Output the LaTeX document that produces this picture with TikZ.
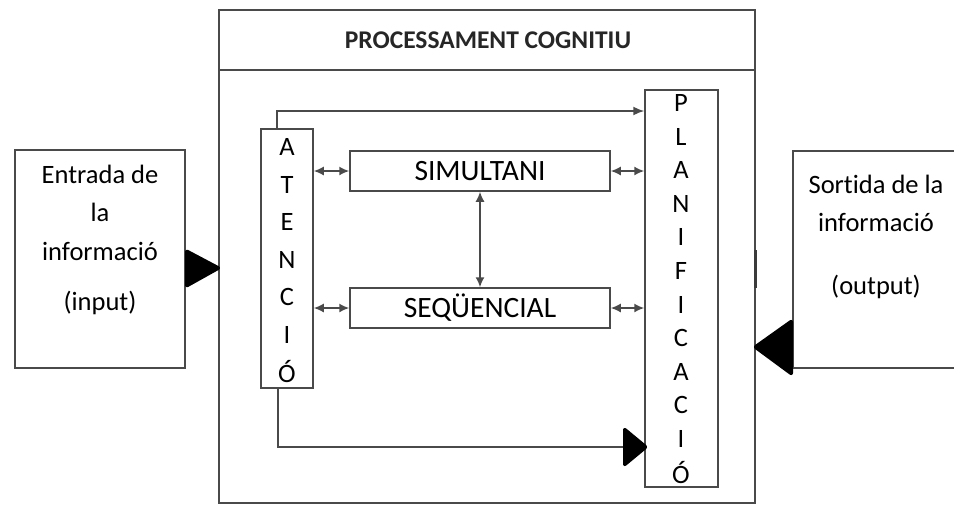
\documentclass[tikz,border=0pt]{standalone}
\usepackage{fontspec}
\setmainfont{Carlito}[Ligatures=NoCommon]
\usetikzlibrary{arrows.meta}
\definecolor{ln}{HTML}{4a4a4a}
\tikzset{
  box/.style={draw=ln, line width=1.5pt, fill=white, inner sep=0pt},
  lbl/.style={font=\fontsize{26.5}{30}\selectfont},
  blbl/.style={font=\fontsize{29.5}{33}\selectfont},
  conn/.style={draw=ln, line width=1.6pt},
  small/.style={-{Latex[length=11pt,width=9pt]}},
  dbl/.style={{Latex[length=10pt,width=9pt]}-{Latex[length=10pt,width=9pt]}},
  bigtri/.style={fill=black, draw=black, line width=2pt, rounded corners=2pt, line join=round},
}
\begin{document}
\begin{tikzpicture}[x=1pt,y=-1pt]
\useasboundingbox (0,0) rectangle (954,504);
% outer processing frame
\node[box, minimum width=536pt, minimum height=493pt, fill=none] (outer) at (487,256.5) {};
\coordinate (hl) at (219,70);
\coordinate (hr) at (755,70);
\draw[conn] (hl) -- (hr);
\node[font=\fontsize{25.5}{30}\selectfont\bfseries, text=black!85] (title) at (488,40) {PROCESSAMENT COGNITIU};
\draw[line width=3pt, ln!80!black] (755,250) -- (755,288);

% input box
\node[box, minimum width=170pt, minimum height=218pt] (in) at (100,259) {};
\node[lbl] (in1) at (100,174) {Entrada de};
\node[lbl] (in2) at (100,212) {la};
\node[lbl] (in3) at (100,251) {informació};
\node[lbl] (in4) at (100,303) {(input)};
\coordinate (inA) at (186,250);
\coordinate (inT) at (220,268);
\coordinate (inB) at (186,287);
\fill[bigtri] (inA) -- (inT) -- (inB) -- cycle;

% output box (cut at right edge)
\coordinate (o1) at (960,151);
\coordinate (o2) at (793,151);
\coordinate (o3) at (793,368);
\coordinate (o4) at (960,368);
\draw[conn] (o1) -- (o2) -- (o3) -- (o4);
\node[lbl] (out1) at (876,184) {Sortida de la};
\node[lbl] (out2) at (876,222) {informació};
\node[lbl] (out3) at (876,287) {(output)};
\coordinate (outA) at (792,320);
\coordinate (outT) at (754,347);
\coordinate (outB) at (792,375);
\fill[bigtri] (outA) -- (outT) -- (outB) -- cycle;

% ATENCIO column
\node[box, minimum width=52pt, minimum height=259pt] (aten) at (287,258.5) {};
\foreach \c [count=\i] in {A,T,E,N,C,I,Ó} {
  \node[lbl] (at\i) at (287,{147+37.5*(\i-1)}) {\c};
}

% PLANIFICACIO column
\node[box, minimum width=73pt, minimum height=397pt] (plan) at (681.5,288.5) {};
\foreach \c [count=\i] in {P,L,A,N,I,F,I,C,A,C,I,Ó} {
  \node[lbl] (pl\i) at (681,{103+33.6*(\i-1)}) {\c};
}

% SIMULTANI and SEQUENCIAL
\node[box, minimum width=260pt, minimum height=40pt, blbl] (sim) at (480,171) {SIMULTANI};
\node[box, minimum width=260pt, minimum height=40pt, blbl] (seq) at (480,308) {SEQÜENCIAL};

% double arrows
\draw[conn, dbl] (aten.east |- sim.west) -- (sim.west);
\draw[conn, dbl] (aten.east |- seq.west) -- (seq.west);
\draw[conn, dbl] (sim.east) -- (plan.west |- sim.east);
\draw[conn, dbl] (seq.east) -- (plan.west |- seq.east);
\draw[conn, dbl] (sim.south) -- (seq.north);

% top connector
\coordinate (tA) at (277,129);
\coordinate (tB) at (277,111);
\draw[conn, small] (tA) -- (tB) -- (plan.west |- tB);

% bottom connector with big arrowhead
\coordinate (bA) at (278,388);
\coordinate (bB) at (278,447);
\coordinate (bC) at (624,447);
\draw[conn] (bA) -- (bB) -- (bC);
\coordinate (bT1) at (624,428);
\coordinate (bT2) at (647,447);
\coordinate (bT3) at (624,466);
\fill[bigtri] (bT1) -- (bT2) -- (bT3) -- cycle;
\end{tikzpicture}
\end{document}
